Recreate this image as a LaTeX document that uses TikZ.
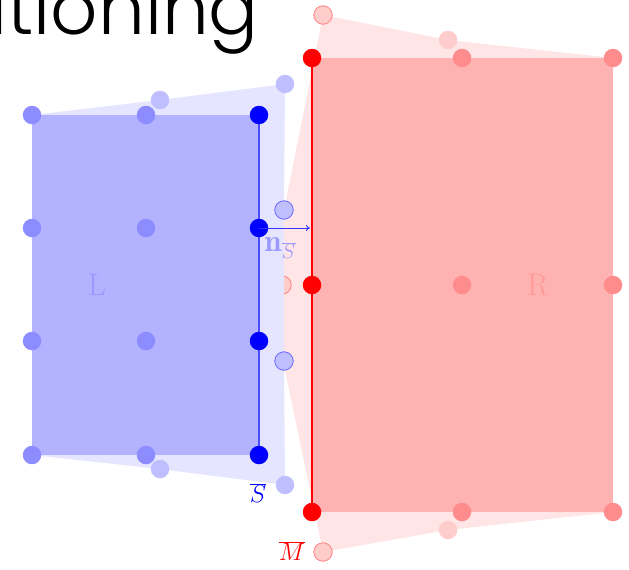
\documentclass[tikz,border=0pt]{standalone}
\usepackage{fontspec}
\newfontfamily\titlefont{Poppins Light}
\usetikzlibrary{arrows.meta}
\tikzset{
  dot/.style={circle,inner sep=0pt,minimum size=18.5pt},
  sdark/.style={dot,fill=blue},
  smid/.style={dot,fill=blue!45},
  slight/.style={dot,fill=blue!25},
  slightout/.style={dot,fill=blue!25,draw=blue!60,line width=0.8pt},
  mdark/.style={dot,fill=red},
  mmid/.style={dot,fill=red!45},
  mlight/.style={dot,fill=red!20},
  mlightout/.style={dot,fill=red!20,draw=red!50,line width=0.8pt},
  lbl/.style={inner sep=0pt,font=\fontsize{31}{36}\selectfont},
}
\begin{document}
\begin{tikzpicture}[x=1pt,y=-1pt]
\useasboundingbox (0,0) rectangle (629,570);
\begin{scope}
\clip (0,0) rectangle (629,570);
\node[anchor=base east,inner sep=0pt,font=\titlefont\fontsize{74}{80}\selectfont] (title) at (259,34) {Partitioning};
\end{scope}
% ---- master side R ----
\fill[red!10] (323,15) -- (448,40) -- (613,58) -- (613,512) -- (448,530) -- (323,552) -- (283,361) -- (283,285) -- (284,210) -- cycle;
\fill[red!30] (312,58) rectangle (613,512);
\node[mlightout] (mt) at (323,15) {};
\node[mlight] (mtm) at (448,40) {};
\node[mlight] (mbm) at (448,530) {};
\node[mlightout] (mb) at (323,552) {};
\node[mlightout] (mc) at (282,285) {};
\node[mmid] (r12) at (462,58) {};
\node[mmid] (r13) at (613,58) {};
\node[mmid] (r22) at (462,285) {};
\node[mmid] (r23) at (613,285) {};
\node[mmid] (r32) at (462,512) {};
\node[mmid] (r33) at (613,512) {};
\coordinate (m1) at (312,58);
\coordinate (m3) at (312,512);
\draw[red,line width=2pt] (m1) -- (m3);
\node[mdark] (r11) at (312,58) {};
\node[mdark] (r21) at (312,285) {};
\node[mdark] (r31) at (312,512) {};
% ---- slave side L ----
\fill[blue!10] (32,115) -- (160,100) -- (285,84) -- (284,210) -- (284,361) -- (285,485) -- (160,469) -- (32,455) -- cycle;
\fill[blue!30] (32,115) rectangle (259,455);
\node[slight] (st) at (285,84) {};
\node[slight] (stm) at (160,100) {};
\node[slight] (sbm) at (160,469) {};
\node[slight] (sb) at (285,485) {};
\node[slightout] (s2) at (284,210) {};
\node[slightout] (s3) at (284,361) {};
\coordinate (s1c) at (259,115);
\coordinate (s4c) at (259,455);
\draw[blue!70,line width=1.2pt] (s1c) -- (s4c);
\foreach \i/\y in {1/115,2/228,3/341,4/455}{
  \node[smid] (l\i a) at (32,\y) {};
  \node[smid] (l\i b) at (146,\y) {};
  \node[sdark] (l\i c) at (259,\y) {};
}
\coordinate (ntip) at (310,228);
\draw[blue!80,line width=0.9pt,-{To[length=4pt,width=6pt]}] (l2c.center) -- (ntip);
% ---- labels ----
\node[lbl,text=blue!40] (nlab) at (280,248) {$\mathbf{n}_{\overline{S}}$};
\node[lbl,text=blue!40] (Llab) at (97,285) {L};
\node[lbl,text=red!40] (Rlab) at (538,285) {R};
\node[lbl,text=blue] (Slab) at (258,493) {$\overline{S}$};
\node[lbl,text=red] (Mlab) at (292,551) {$\overline{M}$};
\end{tikzpicture}
\end{document}
